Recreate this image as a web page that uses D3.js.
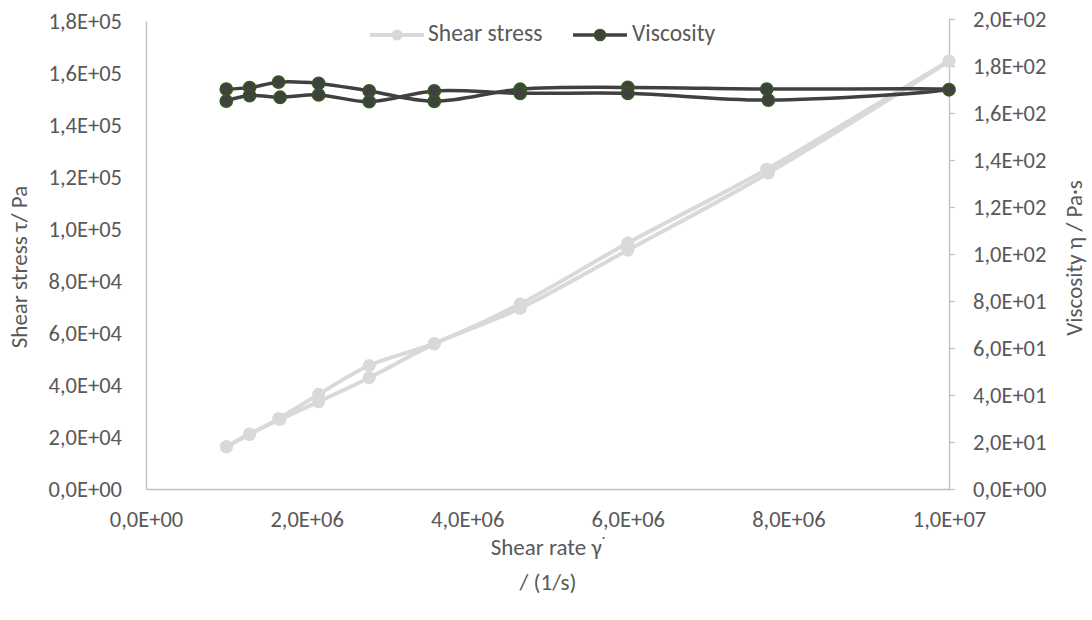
<!DOCTYPE html>
<html>
<head>
<meta charset="utf-8">
<script src="https://cdn.jsdelivr.net/npm/d3@7/dist/d3.min.js"></script>
<style>
  html, body { margin: 0; padding: 0; background: #ffffff; }
  svg { display: block; }
  text { font-family: Carlito, Calibri, Lato, "Open Sans", sans-serif; fill: #595959; }
</style>
</head>
<body>
<svg id="chart" width="1092" height="620"></svg>
<script>
// ---- data ----
const shearRateUp   = [1.0e6, 1.29e6, 1.65e6, 2.15e6, 2.78e6, 3.59e6, 4.66e6, 6.0e6, 7.73e6, 1.0e7];
const shearRateDown = [7.75e6, 6.0e6, 4.66e6, 3.59e6, 2.78e6, 2.15e6, 1.67e6, 1.29e6, 1.0e6];
const stressUp   = [16300, 21000, 27000, 36400, 47500, 56000, 71200, 94600, 123000, 164600];
const stressDown = [121500, 91900, 69500, 55800, 42800, 33600, 26800, 21200, 16200];
const viscUp   = [170.2, 170.8, 173.1, 172.6, 169.4, 165.0, 170.1, 170.9, 170.2, 169.9];
const viscDown = [165.5, 168.4, 168.4, 169.4, 164.8, 167.7, 166.7, 167.4, 165.1];
const xTicks = [0, 2e6, 4e6, 6e6, 8e6, 1e7];
const yLeftTicks = [0, 2e4, 4e4, 6e4, 8e4, 1e5, 1.2e5, 1.4e5, 1.6e5, 1.8e5];
const yRightTicks = [0, 20, 40, 60, 80, 100, 120, 140, 160, 180, 200];
const seriesNames = ["Shear stress", "Viscosity"];

// ---- layout ----
const svg = d3.select("#chart");
const left = 146, right = 949, bottom = 489;
const x = d3.scaleLinear().domain([0, 1e7]).range([left, right]);
const yL = d3.scaleLinear().domain([0, 1.8e5]).range([bottom, 21]);
const yR = d3.scaleLinear().domain([0, 200]).range([bottom, 19]);

function fmt(v) {
  if (v === 0) return "0,0E+00";
  const e = Math.floor(Math.log10(v) + 1e-9);
  const m = v / Math.pow(10, e);
  const s = e < 0 ? "-" : "+";
  return m.toFixed(1).replace(".", ",") + "E" + s + String(Math.abs(e)).padStart(2, "0");
}

const axisColor = "#bfbfbf";
const fontSize = 22.5;
const titleSize = 23;

// x axis
const gx = svg.append("g").attr("transform", `translate(0,${bottom})`)
  .call(d3.axisBottom(x).tickValues(xTicks).tickFormat(fmt).tickSize(0).tickPadding(22));
gx.select(".domain").attr("stroke", axisColor).attr("stroke-width", 1.3);
gx.selectAll("text").style("font-size", fontSize + "px").attr("fill", "#595959");

// left axis
const gl = svg.append("g").attr("transform", `translate(${left},0)`)
  .call(d3.axisLeft(yL).tickValues(yLeftTicks).tickFormat(fmt).tickSize(0).tickPadding(24));
gl.select(".domain").attr("stroke", axisColor).attr("stroke-width", 1.3);
gl.selectAll("text").style("font-size", fontSize + "px").attr("fill", "#595959");

// right axis
const gr = svg.append("g").attr("transform", `translate(${right},0)`)
  .call(d3.axisRight(yR).tickValues(yRightTicks).tickFormat(fmt).tickSizeOuter(0).tickSizeInner(6).tickPadding(18));
gr.select(".domain").attr("stroke", axisColor).attr("stroke-width", 1.3);
gr.selectAll(".tick line").attr("stroke", axisColor).attr("stroke-width", 1.3);
gr.selectAll("text").style("font-size", fontSize + "px").attr("fill", "#595959");

// axis titles
svg.append("text").attr("transform", "translate(22,267) rotate(-90)")
  .attr("text-anchor", "middle").attr("dominant-baseline", "middle")
  .style("font-size", titleSize + "px").text("Shear stress τ/ Pa");
svg.append("text").attr("transform", "translate(1077,258) rotate(-90)")
  .attr("text-anchor", "middle").attr("dominant-baseline", "middle")
  .style("font-size", titleSize + "px").text("Viscosity η / Pa·s");
const xt = svg.append("text").attr("x", 548).attr("y", 550)
  .attr("text-anchor", "middle").attr("dominant-baseline", "middle")
  .style("font-size", titleSize + "px");
xt.append("tspan").text("Shear rate γ");
xt.append("tspan").attr("dy", "-0.4em").style("font-size", "16px").text("˙");
svg.append("text").attr("x", 548).attr("y", 585)
  .attr("text-anchor", "middle").attr("dominant-baseline", "middle")
  .style("font-size", titleSize + "px").text("/ (1/s)");

// ---- series ----
const stressPts = shearRateUp.map((d, i) => [d, stressUp[i]])
  .concat(shearRateDown.map((d, i) => [d, stressDown[i]]));
const viscPts = shearRateUp.map((d, i) => [d, viscUp[i]])
  .concat(shearRateDown.map((d, i) => [d, viscDown[i]]));

const lineL = d3.line().x(d => x(d[0])).y(d => yL(d[1])).curve(d3.curveCatmullRom.alpha(0.5));
const lineR = d3.line().x(d => x(d[0])).y(d => yR(d[1])).curve(d3.curveCatmullRom.alpha(0.5));

const stressColor = "#d9d9d9";
const viscColor = "#404040";
const viscMarkerStroke = "#375623";

svg.append("path").datum(stressPts).attr("d", lineL)
  .attr("fill", "none").attr("stroke", stressColor).attr("stroke-width", 4).attr("stroke-linejoin", "round");
svg.append("g").selectAll("circle").data(stressPts).join("circle")
  .attr("cx", d => x(d[0])).attr("cy", d => yL(d[1])).attr("r", 6.5)
  .attr("fill", stressColor);

svg.append("path").datum(viscPts).attr("d", lineR)
  .attr("fill", "none").attr("stroke", viscColor).attr("stroke-width", 3.5).attr("stroke-linejoin", "round");
svg.append("g").selectAll("circle").data(viscPts).join("circle")
  .attr("cx", d => x(d[0])).attr("cy", d => yR(d[1])).attr("r", 6)
  .attr("fill", viscColor).attr("stroke", viscMarkerStroke).attr("stroke-width", 1.8);

// ---- legend ----
const leg = svg.append("g");
const legItems = [
  { name: seriesNames[0], x0: 370, color: stressColor, stroke: null, tx: 428 },
  { name: seriesNames[1], x0: 573, color: viscColor, stroke: viscMarkerStroke, tx: 632 }
];
legItems.forEach(it => {
  leg.append("line").attr("x1", it.x0).attr("x2", it.x0 + 54).attr("y1", 35).attr("y2", 35)
    .attr("stroke", it.color).attr("stroke-width", it.stroke ? 3.5 : 4);
  leg.append("circle").attr("cx", it.x0 + 27).attr("cy", 35).attr("r", 5.5)
    .attr("fill", it.color).attr("stroke", it.stroke || "none").attr("stroke-width", 1.6);
  leg.append("text").attr("x", it.tx).attr("y", 35).attr("dominant-baseline", "middle")
    .style("font-size", "23.5px").text(it.name);
});
</script>
</body>
</html>
